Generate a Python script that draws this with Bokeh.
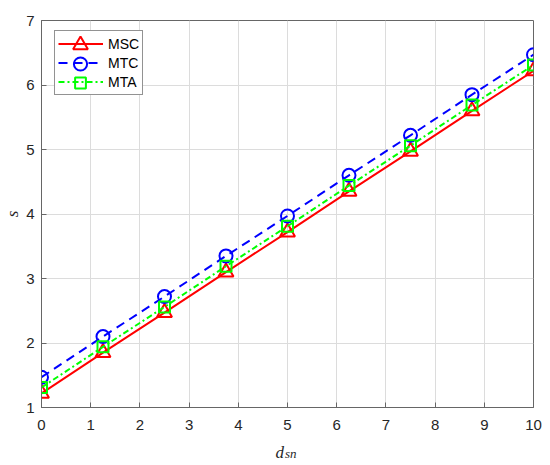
import numpy as np
from bokeh.plotting import figure
from bokeh.models import Range1d, Legend, LegendItem, FixedTicker, Label
from bokeh.embed import file_html
from bokeh.resources import INLINE

# ---- data ----
d_sn = [0, 1.25, 2.5, 3.75, 5, 6.25, 7.5, 8.75, 10]
msc = [1.22, 1.85, 2.47, 3.10, 3.72, 4.35, 4.97, 5.60, 6.22]
mtc = [1.47, 2.10, 2.72, 3.35, 3.97, 4.60, 5.22, 5.85, 6.47]
mta = [1.31, 1.94, 2.56, 3.19, 3.81, 4.44, 5.06, 5.69, 6.31]
series_names = ["MSC", "MTC", "MTA"]
x_ticks = [0, 1, 2, 3, 4, 5, 6, 7, 8, 9, 10]
y_ticks = [1, 2, 3, 4, 5, 6, 7]

p = figure(width=542, height=462, output_backend="svg", toolbar_location=None,
           x_range=Range1d(0, 10), y_range=Range1d(1, 7),
           min_border_left=41, min_border_right=9, min_border_top=20,
           min_border_bottom=55)
p.background_fill_color = "white"
p.border_fill_color = "white"
p.outline_line_color = "#666666"
p.outline_line_width = 1

for ax in (p.xaxis[0], p.yaxis[0]):
    ax.major_label_text_font = "Liberation Sans"
    ax.major_label_text_font_size = "15px"
    ax.major_label_text_color = "#262626"
    ax.axis_line_color = "#666666"
    ax.major_tick_line_color = "#666666"
    ax.major_tick_in = 5
    ax.major_tick_out = 0
    ax.minor_tick_line_color = None
p.xaxis[0].ticker = FixedTicker(ticks=x_ticks)
p.yaxis[0].ticker = FixedTicker(ticks=y_ticks)
p.xaxis[0].major_label_standoff = 12
p.yaxis[0].major_label_standoff = 7
ya = p.yaxis[0]
ya.axis_label = "s"
ya.axis_label_text_font = "Liberation Serif"
ya.axis_label_text_font_style = "italic"
ya.axis_label_text_font_size = "17px"
ya.axis_label_text_color = "#262626"
ya.axis_label_standoff = 1

p.xgrid.grid_line_color = "#dcdcdc"
p.ygrid.grid_line_color = "#dcdcdc"
p.xgrid.ticker = FixedTicker(ticks=x_ticks)
p.ygrid.ticker = FixedTicker(ticks=y_ticks)

l1 = p.line(d_sn, msc, line_color="#ff0000", line_width=2)
m1 = p.scatter(d_sn, msc, marker="triangle", size=15, line_color="#ff0000",
               fill_color=None, line_width=2)
l2 = p.line(d_sn, mtc, line_color="#0000ff", line_width=2, line_dash="9 6")
m2 = p.scatter(d_sn, mtc, marker="circle", size=13, line_color="#0000ff",
               fill_color=None, line_width=2)
l3 = p.line(d_sn, mta, line_color="#00ff00", line_width=2, line_dash="6 3 2 3")
m3 = p.scatter(d_sn, mta, marker="square", size=11, line_color="#00ff00",
               fill_color=None, line_width=2)

# main legend: box, labels and line samples
legend = Legend(items=[
    LegendItem(label=series_names[0], renderers=[l1]),
    LegendItem(label=series_names[1], renderers=[l2]),
    LegendItem(label=series_names[2], renderers=[l3]),
], location=(13, 312))
legend.margin = 0
legend.padding = 3
legend.spacing = 0
legend.glyph_width = 45
legend.glyph_height = 19
legend.label_height = 19
legend.label_standoff = 5
legend.label_text_font = "Liberation Sans"
legend.label_text_font_size = "14px"
legend.label_text_color = "#000000"
legend.border_line_color = "#262626"
legend.border_line_width = 1
legend.background_fill_color = "white"
legend.background_fill_alpha = 1
p.add_layout(legend)

# marker samples laid over the legend rows (full-size markers)
for i, (rend, gh) in enumerate([(m1, 37), (m2, 33), (m3, 27)]):
    mk = Legend(items=[LegendItem(label=" ", renderers=[rend])],
                location=(8.5, 362.5 - gh / 2 - 19 * i))
    mk.margin = 0
    mk.padding = 0
    mk.spacing = 0
    mk.glyph_width = 60
    mk.glyph_height = gh
    mk.label_height = 10
    mk.label_standoff = 0
    mk.label_text_font_size = "1px"
    mk.border_line_color = None
    mk.background_fill_alpha = 0
    p.add_layout(mk)

# x axis label d_sn (italic with subscript)
p.add_layout(Label(x=-258, y=-45.2, x_units="screen", y_units="screen", text="d",
                   text_font="Liberation Serif", text_font_style="italic",
                   text_font_size="17px", text_color="#262626",
                   text_baseline="alphabetic", text_align="left"), "right")
p.add_layout(Label(x=243.5, y=-432.5, x_units="screen", y_units="screen", text="sn",
                   text_font="Liberation Serif", text_font_style="italic",
                   text_font_size="13px", text_color="#262626",
                   text_baseline="alphabetic", text_align="left"), "above")

open("out.html", "w").write(file_html(p, INLINE))
